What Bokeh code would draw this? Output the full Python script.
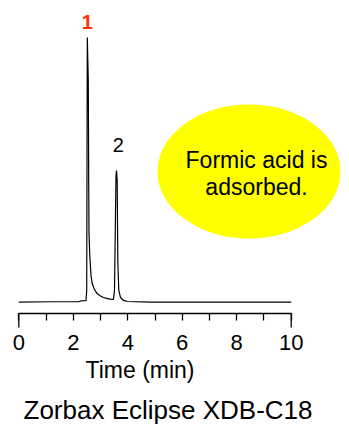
from bokeh.plotting import figure
from bokeh.models import Range1d, FixedTicker, LinearAxis, Arrow
from bokeh.core.properties import value
from bokeh.embed import file_html
from bokeh.resources import INLINE

# chromatogram trace (time in min, relative signal)
time_min = [0.0, 1.16, 2.19, 2.265, 2.467, 2.493, 2.515, 2.551, 2.566, 2.577, 2.606,
            2.651, 2.695, 2.779, 2.878, 2.999, 3.109, 3.256, 3.366, 3.476, 3.513,
            3.568, 3.587, 3.612, 3.634, 3.671, 3.734, 3.847, 3.994, 4.84, 7.0, 10.0]
signal = [-0.2, -0.1, -0.1, 0.2, 0.3, 4.2, 100.0, 83.7, 45.8, 25.8, 17.4,
          9.8, 6.8, 4.5, 3.0, 2.1, 1.5, 1.1, 0.9, 0.8, 4.2,
          47.7, 49.6, 45.8, 15.5, 4.2, 1.5, 0.4, 0.0, -0.2, -0.2, -0.2]

peak_labels = ["1", "2"]
peak_times = [2.515, 3.587]
peak_heights = [100.0, 49.6]

tick_values = list(range(0, 11))
tick_labels = {t: (str(t) if t % 2 == 0 else "") for t in tick_values}

note_lines = ["Formic acid is", "adsorbed."]
x_title = "Time (min)"
column_name = "Zorbax Eclipse XDB-C18"

FONT = "Liberation Sans"
W, H = 349, 425
PX_X = 27.24   # px per minute
PX_Y = 2.64    # px per signal unit
X0 = 18.3      # px of t=0
Y0 = 301.0     # px of signal=0 (from top)
AXIS_PX = 313  # px of the time axis line (from top)


def dx(px):
    return (px - X0) / PX_X


def dy(py):
    return (Y0 - py) / PX_Y


p = figure(width=W, height=H,
           x_range=Range1d(dx(0), dx(W)), y_range=Range1d(dy(H), dy(0)),
           output_backend="svg", toolbar_location=None,
           x_axis_location=None, y_axis_location=None,
           min_border_left=0, min_border_right=0, min_border_top=0, min_border_bottom=0)
p.outline_line_color = None
p.grid.visible = False
p.background_fill_color = "white"
p.border_fill_color = "white"

# yellow note ellipse
p.ellipse(x=[dx(248.5)], y=[dy(171)], width=183, height=134, width_units="screen",
          height_units="screen", fill_color="#ffff00", line_color=None)
p.text(x=[dx(256)] * 2, y=[dy(159), dy(186)], text=note_lines,
       text_align="center", text_baseline="alphabetic", text_font=value(FONT),
       text_font_size="23px", text_color="black")

# trace
p.line(time_min, signal, line_color="black", line_width=1.2)

# peak labels
p.text(x=[peak_times[0]], y=[peak_heights[0]], text=[peak_labels[0]], y_offset=-16,
       text_align="center", text_baseline="alphabetic", text_font=value(FONT),
       text_font_size="20px", text_font_style="bold", text_color="#ff3300")
p.text(x=[peak_times[1] + 0.07], y=[peak_heights[1]], text=[peak_labels[1]], y_offset=-26,
       text_align="center", text_baseline="alphabetic", text_font=value(FONT),
       text_font_size="20px", text_color="black")

# time axis drawn at a fixed place inside the frame
ax = LinearAxis(fixed_location=dy(AXIS_PX))
ax.bounds = (0, 10)
ax.ticker = FixedTicker(ticks=tick_values)
ax.major_label_overrides = tick_labels
ax.major_tick_out = 7
ax.major_tick_in = 0
ax.minor_tick_line_color = None
ax.axis_line_color = "black"
ax.axis_line_width = 1.3
ax.major_tick_line_color = "black"
ax.major_tick_line_width = 1.3
ax.major_label_text_font = FONT
ax.major_label_text_font_size = "22px"
ax.major_label_text_color = "black"
ax.major_label_standoff = 14
p.add_layout(ax, "below")

# longer end ticks at 0 and 10
for t in (tick_values[0], tick_values[-1]):
    p.add_layout(Arrow(x_start=t, y_start=dy(AXIS_PX), x_end=t, y_end=dy(AXIS_PX + 14),
                       end=None, line_color="black", line_width=1.3))

# axis title and column name
p.text(x=[dx(85)], y=[dy(369)], text=[x_title], text_align="left",
       text_baseline="alphabetic", text_font=value(FONT), text_font_size="23px",
       text_color="black")
p.text(x=[dx(23)], y=[dy(409.5)], text=[column_name], text_align="left",
       text_baseline="alphabetic", text_font=value(FONT), text_font_size="26px",
       text_color="black")

open("out.html", "w").write(file_html(p, INLINE))
